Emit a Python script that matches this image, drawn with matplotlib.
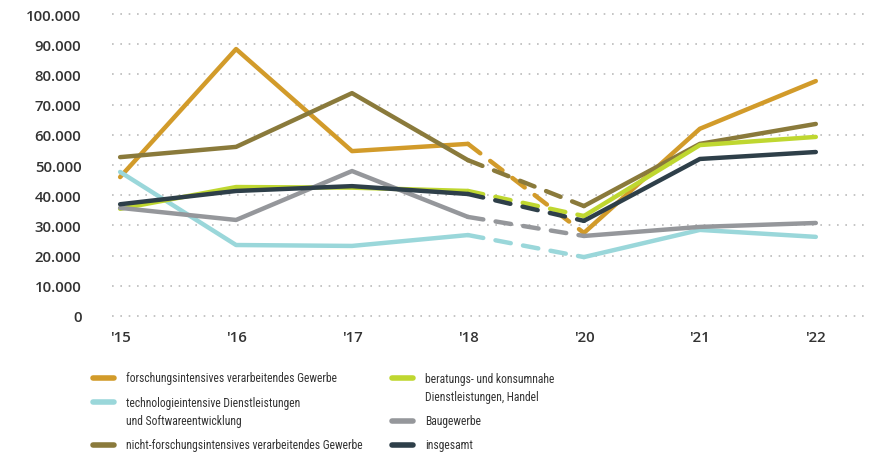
import numpy as np
import matplotlib.pyplot as plt
from matplotlib.lines import Line2D
from matplotlib.ticker import FuncFormatter

years = ["'15", "'16", "'17", "'18", "'20", "'21", "'22"]

forschung = [46000, 88400, 54600, 57000, 27500, 62000, 77800]
technologie = [47700, 23500, 23200, 26800, 19500, 28500, 26200]
nicht_forschung = [52600, 56000, 73800, 51600, 36400, 57000, 63600]
beratung = [35500, 42700, 42500, 41400, 33100, 56600, 59300]
bau = [35800, 31800, 48000, 32800, 26500, 29500, 30800]
insgesamt = [37000, 41400, 43000, 40400, 31500, 52000, 54300]

labels = ["forschungsintensives verarbeitendes Gewerbe",
          "technologieintensive Dienstleistungen\nund Softwareentwicklung",
          "nicht-forschungsintensives verarbeitendes Gewerbe",
          "beratungs- und konsumnahe\nDienstleistungen, Handel",
          "Baugewerbe",
          "insgesamt"]
series = [forschung, technologie, nicht_forschung, beratung, bau, insgesamt]
colors = ["#D29B2A", "#9AD7DA", "#8A7A3B", "#BFD730", "#95979B", "#2E3F49"]

plt.rcParams['font.family'] = ['Open Sans', 'DejaVu Sans']

fig = plt.figure(figsize=(8.7, 4.56), dpi=100)
ax = fig.add_axes([112/870, (456-320)/456, 756/870, 308/456])

x = np.arange(len(years))
for vals, c in zip(series, colors):
    v = np.array(vals)
    ax.plot(x[:4], v[:4], color=c, lw=3.2, solid_capstyle='round', solid_joinstyle='round', zorder=3)
    ax.plot(x[3:5], v[3:5], color=c, lw=3.2, dashes=(3.5, 2.8), dash_capstyle='round', zorder=3)
    ax.plot(x[4:], v[4:], color=c, lw=3.2, solid_capstyle='round', solid_joinstyle='round', zorder=3)

ax.set_xlim(-0.07, 6.45)
ax.set_ylim(-1000, 101000)
ax.set_yticks(np.arange(0, 100001, 10000))
ax.yaxis.set_major_formatter(FuncFormatter(lambda v, p: f"{int(v):,}".replace(",", ".")))
ax.set_xticks(x)
ax.set_xticklabels(years)
ax.grid(axis='y', color='#BBBBBB', linestyle=(0, (1, 4)), lw=1.2)
ax.set_axisbelow(True)
for s in ax.spines.values():
    s.set_visible(False)
ax.tick_params(length=0, labelsize=10.8, colors='#333333')
ax.tick_params(axis='y', pad=22)
ax.tick_params(axis='x', pad=8)
for t in ax.get_yticklabels() + ax.get_xticklabels():
    t.set_fontweight('semibold')

# legend
W, H = 870, 456
pos = [(93, 379), (93, 403), (93, 446), (392, 379), (392, 422), (392, 446)]
for (px, py), lab, c in zip(pos, labels, colors):
    fig.add_artist(Line2D([px / W, (px + 21) / W], [1 - py / H, 1 - py / H], color=c, lw=4,
                          solid_capstyle='round'))
    n = lab.count("\n")
    fig.text((px + 33) / W, 1 - (py + 9.5 * n) / H, lab, fontsize=8.4, color='#333333',
             va='center', linespacing=1.45, family=['Roboto Condensed', 'DejaVu Sans'],
             fontstretch='condensed')

fig.savefig("out.png", dpi=100)
